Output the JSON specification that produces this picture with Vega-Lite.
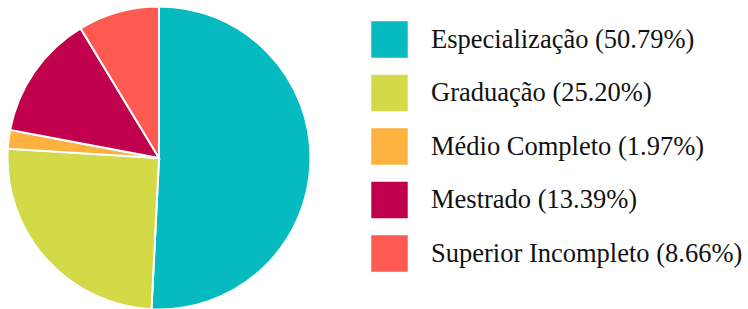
{
  "$schema": "https://vega.github.io/schema/vega-lite/v6.json",
  "width": 318,
  "height": 306,
  "padding": {"top": 2, "left": 0, "right": 0, "bottom": 1},
  "background": "white",
  "view": {"stroke": null},
  "data": {
    "values": [
      {"categoria": "Especialização (50.79%)", "ordem": 1, "n": 129},
      {"categoria": "Graduação (25.20%)", "ordem": 2, "n": 64},
      {"categoria": "Médio Completo (1.97%)", "ordem": 3, "n": 5},
      {"categoria": "Mestrado (13.39%)", "ordem": 4, "n": 34},
      {"categoria": "Superior Incompleto (8.66%)", "ordem": 5, "n": 22}
    ]
  },
  "mark": {"type": "arc", "outerRadius": 151.5, "stroke": "white", "strokeWidth": 2},
  "encoding": {
    "theta": {"field": "n", "type": "quantitative", "stack": true},
    "order": {"field": "ordem", "type": "quantitative"},
    "color": {
      "field": "categoria",
      "type": "nominal",
      "sort": null,
      "scale": {
        "domain": ["Especialização (50.79%)", "Graduação (25.20%)", "Médio Completo (1.97%)", "Mestrado (13.39%)", "Superior Incompleto (8.66%)"],
        "range": ["#05BBBF", "#D4DA47", "#FDB13F", "#C0004D", "#FF5A51"]
      },
      "legend": {
        "title": null,
        "orient": "none",
        "legendX": 371,
        "legendY": 16,
        "padding": 0,
        "symbolType": "square",
        "symbolSize": 1330,
        "symbolStrokeWidth": 0,
        "symbolOpacity": 1,
        "rowPadding": 16.5,
        "labelOffset": 23,
        "labelFont": "Liberation Serif",
        "labelFontSize": 26.5,
        "labelColor": "#111111",
        "labelLimit": 0
      }
    }
  }
}
